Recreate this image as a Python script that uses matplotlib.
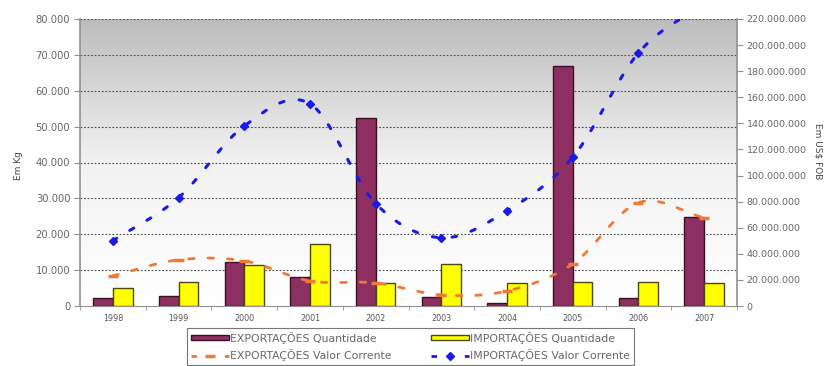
import numpy as np
import matplotlib
matplotlib.use("Agg")
import matplotlib.pyplot as plt
from matplotlib.lines import Line2D
from matplotlib.patches import Patch
from matplotlib.ticker import FuncFormatter, MultipleLocator
from matplotlib.colors import LinearSegmentedColormap

years = ["1998", "1999", "2000", "2001", "2002", "2003", "2004", "2005", "2006", "2007"]
exp_qtd = [2200, 2800, 12300, 8100, 52400, 2500, 800, 66900, 2200, 24800]
imp_qtd = [5000, 6700, 11400, 17300, 6400, 11700, 6400, 6700, 6700, 6400]
exp_val = [23.1e6, 35.4e6, 34.6e6, 19.2e6, 17.7e6, 8.5e6, 11.5e6, 32.3e6, 79.2e6, 67.7e6]
imp_val = [50e6, 83e6, 138e6, 155e6, 78.5e6, 52.3e6, 73e6, 114e6, 194e6, 232e6]

left_label = "Em Kg"
right_label = "Em US$ FOB"
leg_labels = ["EXPORTAÇÕES Quantidade", "IMPORTAÇÕES Quantidade",
              "EXPORTAÇÕES Valor Corrente", "IMPORTAÇÕES Valor Corrente"]

W, H = 827, 366
fig = plt.figure(figsize=(W / 100, H / 100), dpi=100)
ax = fig.add_axes([80 / W, 1 - 306 / H, 657 / W, 287 / H])
ax2 = ax.twinx()

x = np.arange(len(years))

# gradient background
grad = np.linspace(0, 1, 256).reshape(-1, 1)
cmap = LinearSegmentedColormap.from_list("g", ["#ffffff", "#f2f2f2", "#bdbdbd"])
ax.imshow(grad, extent=[0, 1, 0, 1], transform=ax.transAxes, aspect="auto",
          cmap=cmap, origin="lower", zorder=0)

ax.set_xlim(-0.5, len(years) - 0.5)
ax.set_ylim(0, 80000)
ax2.set_ylim(0, 220e6)

# grid
for v in range(10000, 80001, 10000):
    ax.axhline(v, color="#505050", lw=0.8, ls=(0, (1.6, 1.6)), zorder=1)

bw = 0.3
ax.bar(x - bw / 2, exp_qtd, bw, color="#8e2f62", edgecolor="#3a1020", lw=1.0, zorder=3)
ax.bar(x + bw / 2, imp_qtd, bw, color="#ffff00", edgecolor="#4a4a10", lw=1.0, zorder=3)


def smooth(xs, ys, n=30):
    xs = np.asarray(xs, float)
    ys = np.asarray(ys, float)
    P = np.column_stack([xs, ys])
    P = np.vstack([2 * P[0] - P[1], P, 2 * P[-1] - P[-2]])
    out = []
    for i in range(1, len(P) - 2):
        p0, p1, p2, p3 = P[i - 1], P[i], P[i + 1], P[i + 2]
        t = np.linspace(0, 1, n, endpoint=(i == len(P) - 3))[:, None]
        c = 0.5 * ((2 * p1) + (-p0 + p2) * t + (2 * p0 - 5 * p1 + 4 * p2 - p3) * t ** 2
                   + (-p0 + 3 * p1 - 3 * p2 + p3) * t ** 3)
        out.append(c)
    out = np.vstack(out)
    return out[:, 0], out[:, 1]


sx, sy = smooth(x, exp_val)
ax2.plot(sx, sy, color="#f07a35", lw=2.0, ls=(0, (2.0, 5.0)), dash_capstyle="round", zorder=4)
ax2.plot(x, exp_val, ls="none", marker="_", ms=7, mew=2.5, color="#f07a35", zorder=5)
sx, sy = smooth(x, imp_val)
ax2.plot(sx, sy, color="#1a1ae6", lw=2.2, ls=(0, (1.5, 5.0)), dash_capstyle="round", zorder=4)
ax2.plot(x, imp_val, ls="none", marker="D", ms=4.5, color="#1a1ae6", zorder=5)

# axes styling
for a in (ax, ax2):
    for s in a.spines.values():
        s.set_visible(False)
ax.spines["left"].set_visible(True)
ax.spines["left"].set_color("#909090")
ax.spines["left"].set_linewidth(1.2)
ax.spines["bottom"].set_visible(True)
ax.spines["bottom"].set_color("#909090")
ax2.spines["right"].set_visible(True)
ax2.spines["right"].set_color("#909090")
ax2.spines["right"].set_linewidth(1.2)

ax.yaxis.set_major_locator(MultipleLocator(10000))
ax2.yaxis.set_major_locator(MultipleLocator(20e6))
ax.yaxis.set_major_formatter(FuncFormatter(lambda v, p: f"{int(v):,}".replace(",", ".")))
ax2.yaxis.set_major_formatter(FuncFormatter(lambda v, p: f"{int(v):,}".replace(",", ".")))
ax.tick_params(axis="y", labelsize=7.2, labelcolor="#666666", color="#909090", length=4, pad=3)
ax2.tick_params(axis="y", labelsize=6.8, labelcolor="#666666", color="#909090", length=4, pad=3)

ax.set_xticks(x)
ax.set_xticklabels(years)
ax.set_xticks(np.arange(-0.5, len(years), 1), minor=True)
ax.tick_params(axis="x", which="major", length=0, labelsize=5.8, labelcolor="#555555", pad=6)
ax.tick_params(axis="x", which="minor", length=3, color="#909090")

ax.set_ylabel(left_label, fontsize=6.5, color="#444444")
ax2.set_ylabel(right_label, fontsize=6.5, color="#444444", rotation=-90)
ax2.yaxis.set_label_coords(1.13, 0.54)
ax.yaxis.set_label_coords(-0.087, 0.49)

h_exp_q = Patch(facecolor="#8e2f62", edgecolor="#3a1020")
h_imp_q = Patch(facecolor="#ffff00", edgecolor="#4a4a10")
h_exp_v = Line2D([], [], color="#f07a35", lw=2, ls=(0, (2, 4)), marker="_", ms=7, mew=2.5)
h_imp_v = Line2D([], [], color="#1a1ae6", lw=2, ls=(0, (2, 4)), marker="D", ms=4)
handles = [h_exp_q, h_exp_v, h_imp_q, h_imp_v]
labels = [leg_labels[0], leg_labels[2], leg_labels[1], leg_labels[3]]
leg = fig.legend(handles, labels, ncol=2, loc="upper left",
                 bbox_to_anchor=(187 / W, 1 - 328 / H), borderaxespad=0,
                 fontsize=7.8, frameon=True,
                 fancybox=False, edgecolor="#555555", handlelength=3.5, handleheight=0.35,
                 columnspacing=3.6, borderpad=0.35, labelspacing=0.5, handletextpad=0.15,
                 labelcolor="#666666")
leg.get_frame().set_linewidth(0.8)

fig.savefig("out.png", dpi=100, facecolor="white")
